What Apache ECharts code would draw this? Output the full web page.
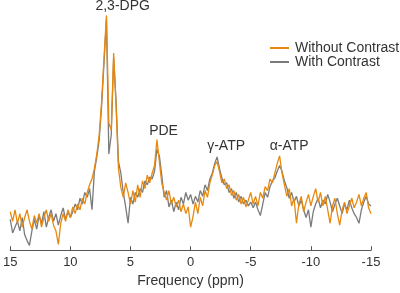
<!DOCTYPE html>
<html>
<head>
<meta charset="utf-8">
<title>Frequency (ppm)</title>
<script src="https://cdn.jsdelivr.net/npm/echarts@6/dist/echarts.min.js"></script>
<style>
* { margin: 0; padding: 0; }
#main { width: 400px; height: 293px; }
</style>
</head>
<body>
<div id="main"></div>
<script>
// chemical shift, 15 -> -15 ppm, step 0.2
let ppm = [];
for (let i = 0; i <= 150; i++) ppm.push(+(15 - i * 0.2).toFixed(1));

// signal (a.u.)
let withoutContrast = [
  40,30,42,28,38,24,34,42,30,22,36,28,38,24,34,42,30,38,26,20,6,28,38,30,42,34,
  45,38,48,42,54,48,60,68,74,85,100,120,155,200,244,132,125,205,150,85,
  65,55,70,60,48,62,50,68,55,72,64,78,70,80,88,115,92,70,60,52,62,48,55,45,52,40,48,38,45,24,
  35,50,38,55,46,62,55,70,78,88,
  92,82,70,74,64,68,57,62,52,58,
  48,55,45,52,60,48,56,46,60,54,
  66,62,74,70,80,90,98,80,68,56,
  64,46,54,28,48,56,40,50,58,46,
  56,64,50,60,46,56,42,28,46,54,
  38,26,42,50,38,46,54,44,50,58,
  46,54,60,44,38
];
let withContrast = [
  32,18,24,30,20,34,16,10,5,20,32,22,36,28,40,24,34,42,30,38,26,36,44,32,40,34,
  40,48,42,54,48,60,55,64,42,82,97,115,150,195,240,100,120,200,155,92,
  80,60,45,28,55,48,60,55,64,60,72,68,76,74,82,105,98,78,55,62,45,52,40,50,42,55,48,60,52,58,
  48,56,50,62,56,68,62,74,80,90,
  97,85,75,68,70,60,64,54,60,50,
  56,48,52,46,50,44,50,42,36,48,
  60,55,66,72,75,82,88,82,72,65,
  54,60,50,56,46,52,42,34,42,24,
  40,48,54,44,52,48,58,50,40,48,
  54,46,38,48,42,52,44,38,34,28,
  42,50,56,48,46
];

let peakNames = ['2,3-DPG', 'PDE', 'γ-ATP', 'α-ATP'];
let peakPpm = [5.65, 2.25, -2.95, -8.2];
let peakVal = [254, 124, 108, 108];

let myChart = echarts.init(document.getElementById('main'));

function pairs(arr) {
  return arr.map((v, i) => [ppm[i], v]);
}

let option = {
  animation: false,
  textStyle: { fontFamily: 'Liberation Sans, Arial, sans-serif' },
  grid: { left: 6, right: 29, top: 0, bottom: 30 },
  legend: {
    orient: 'vertical',
    left: 265,
    top: 36,
    itemWidth: 19,
    itemHeight: 2,
    itemGap: 0,
    icon: 'rect',
    textStyle: { fontSize: 14, color: '#333', padding: [0, 0, 0, 1] },
    data: ['Without Contrast', 'With Contrast']
  },
  xAxis: {
    type: 'value',
    inverse: true,
    min: -15,
    max: 15,
    interval: 5,
    name: 'Frequency (ppm)',
    nameLocation: 'middle',
    nameGap: 20,
    nameTextStyle: { fontSize: 14, color: '#333' },
    axisLine: { lineStyle: { color: '#555', width: 1 } },
    axisTick: { inside: true, length: 4, lineStyle: { color: '#555' } },
    axisLabel: { fontSize: 13, color: '#333', margin: 3 },
    splitLine: { show: false }
  },
  yAxis: {
    type: 'value',
    min: -3,
    max: 260,
    show: false
  },
  series: [
    {
      name: 'With Contrast',
      type: 'line',
      symbol: 'none',
      color: '#7b7b7b',
      lineStyle: { width: 1.3 },
      data: pairs(withContrast)
    },
    {
      name: 'Without Contrast',
      type: 'line',
      symbol: 'none',
      color: '#e8890f',
      lineStyle: { width: 1.3 },
      data: pairs(withoutContrast),
      markPoint: {
        symbol: 'circle',
        symbolSize: 0,
        label: { show: true, position: 'inside', fontSize: 14, color: '#333', formatter: p => p.name },
        data: peakNames.map((n, i) => ({ name: n, coord: [peakPpm[i], peakVal[i]] }))
      }
    }
  ]
};
myChart.setOption(option);
</script>
</body>
</html>
